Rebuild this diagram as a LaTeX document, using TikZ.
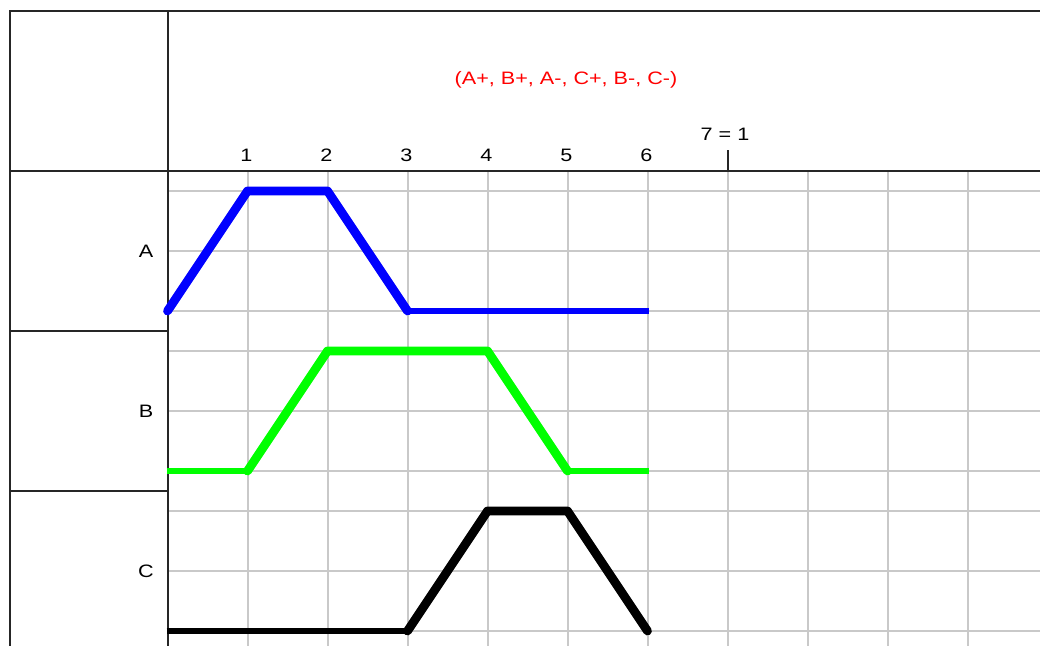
\documentclass[tikz,border=0pt]{standalone}
\usepackage{fontspec}
\setmainfont{Liberation Sans}
\begin{document}
\begin{tikzpicture}[x=0.75pt,y=-0.75pt,
  frame/.style={draw=black!85,line width=1.5pt},
  gridline/.style={draw=black!21,line width=1.5pt},
  lbl/.style={font=\fontsize{13.5pt}{15pt}\selectfont,inner sep=0pt,xscale=1.2,transform shape},
  thickA/.style={line width=6.6pt,line cap=round,line join=round},
  thinA/.style={line width=3.8pt,line join=round}]
\useasboundingbox (0,0) rectangle (1040,646);
\fill[white] (0,0) rectangle (1040,646);
% grid
\foreach \k in {1,...,10}
  \draw[gridline] (167.5+80*\k,172) -- (167.5+80*\k,646);
\foreach \r in {0,1,2}
  \foreach \o in {20,80,140}
    \draw[gridline] (168.5,171+160*\r+\o) -- (1040,171+160*\r+\o);
% frame
\draw[frame] (1040,11) -- (10,11) -- (10,646);
\draw[frame] (167.5,11) -- (167.5,646);
\draw[frame] (10,171) -- (1040,171);
\draw[frame] (10,331) -- (167.5,331);
\draw[frame] (10,491) -- (167.5,491);
\draw[frame] (727.5,150) -- (727.5,171);
% labels
\node[lbl,text=red] (title) at (566,80) {(A+, B+, A-, C+, B-, C-)};
\foreach \k in {1,...,6}
  \node[lbl] (n\k) at (167.5+80*\k-1,155) {\k};
\node[lbl] (n7) at (725,134) {7 = 1};
\node[lbl] (la) at (146,251) {A};
\node[lbl] (lb) at (146,411) {B};
\node[lbl] (lc) at (146,571) {C};
% signal A
\draw[thinA,blue] (407.5,311) -- (648.5,311);
\draw[thickA,blue] (167.5,311) -- (247.5,191) -- (327.5,191) -- (407.5,311);
% signal B
\draw[thinA,green] (166.5,471) -- (247.5,471);
\draw[thinA,green] (567.5,471) -- (648.5,471);
\draw[thickA,green] (247.5,471) -- (327.5,351) -- (487.5,351) -- (567.5,471);
% signal C
\draw[thinA,black] (166.5,631) -- (407.5,631);
\draw[thickA,black] (407.5,631) -- (487.5,511) -- (567.5,511) -- (647.5,631);
\end{tikzpicture}
\end{document}
